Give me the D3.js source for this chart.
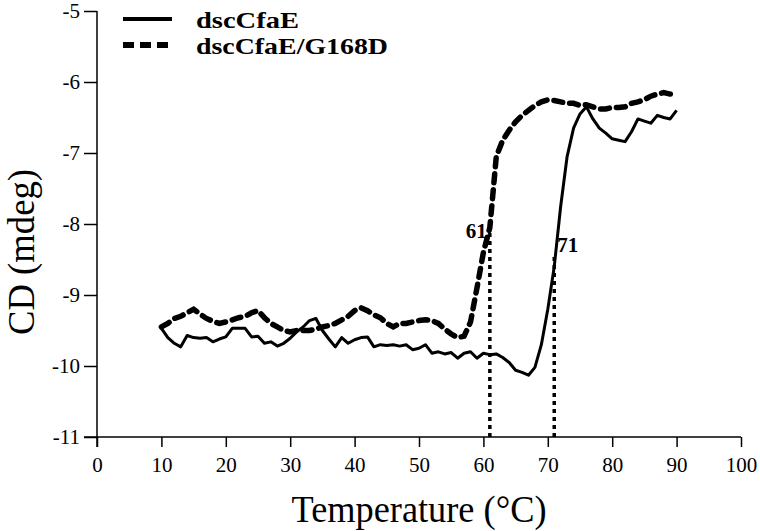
<!DOCTYPE html>
<html><head><meta charset="utf-8">
<script src="https://cdn.jsdelivr.net/npm/d3@7"></script>
<style>body{margin:0;background:#fff}svg{display:block}svg text{font-family:"Liberation Serif","Times New Roman",serif}</style>
</head><body><svg id="c" width="760" height="531"></svg>
<script>
const tempsA = d3.range(10, 91);
const wildType = [-9.47,-9.6,-9.68,-9.73,-9.57,-9.6,-9.61,-9.6,-9.66,-9.62,-9.59,-9.47,-9.47,-9.47,-9.59,-9.58,-9.68,-9.66,-9.72,-9.68,-9.61,-9.52,-9.45,-9.36,-9.33,-9.5,-9.62,-9.73,-9.6,-9.68,-9.63,-9.6,-9.59,-9.73,-9.7,-9.71,-9.7,-9.72,-9.7,-9.77,-9.75,-9.7,-9.82,-9.8,-9.83,-9.81,-9.89,-9.82,-9.8,-9.89,-9.82,-9.84,-9.83,-9.88,-9.95,-10.06,-10.09,-10.13,-10.02,-9.7,-9.2,-8.6,-7.75,-7.05,-6.65,-6.45,-6.35,-6.52,-6.65,-6.72,-6.8,-6.82,-6.84,-6.7,-6.52,-6.55,-6.58,-6.47,-6.5,-6.52,-6.4];
const mutant = [-9.45,-9.4,-9.33,-9.3,-9.25,-9.2,-9.27,-9.33,-9.37,-9.4,-9.38,-9.35,-9.32,-9.3,-9.25,-9.22,-9.32,-9.4,-9.45,-9.5,-9.52,-9.5,-9.5,-9.5,-9.48,-9.45,-9.43,-9.4,-9.35,-9.3,-9.22,-9.18,-9.22,-9.28,-9.32,-9.4,-9.45,-9.4,-9.4,-9.38,-9.36,-9.35,-9.36,-9.4,-9.48,-9.55,-9.6,-9.58,-9.38,-8.9,-8.4,-8.05,-7.05,-6.82,-6.68,-6.56,-6.47,-6.4,-6.33,-6.28,-6.25,-6.26,-6.28,-6.3,-6.3,-6.33,-6.32,-6.35,-6.38,-6.38,-6.36,-6.36,-6.35,-6.3,-6.28,-6.25,-6.2,-6.17,-6.15,-6.17,-6.18];
const seriesNames = ["dscCfaE", "dscCfaE/G168D"];
const tmTemps = [61, 71];
const tmTops = [-8.05, -8.45];
const tmLabels = ["61", "71"];
const xTicks = d3.range(0, 101, 10);
const yTicks = [-11, -10, -9, -8, -7, -6, -5];

const FONT = '"Liberation Serif","Times New Roman",serif';
const svg = d3.select("#c");
const x = d3.scaleLinear().domain([0, 100]).range([97, 741]);
const y = d3.scaleLinear().domain([-11, -5]).range([437, 11]);

// axes
const xAxis = svg.append("g").attr("transform", `translate(0,${y(-11)})`)
  .call(d3.axisBottom(x).tickValues(xTicks).tickSize(10).tickPadding(10).tickSizeOuter(0)
    .tickFormat(d => String(d)));
const yAxis = svg.append("g").attr("transform", `translate(${x(0)},0)`)
  .call(d3.axisLeft(y).tickValues(yTicks).tickSize(13).tickPadding(4).tickSizeOuter(0)
    .tickFormat(d => String(d)));
[xAxis, yAxis].forEach(g => {
  g.attr("font-family", FONT).attr("font-size", 21);
  g.select(".domain").remove();
  g.selectAll("line").attr("stroke", "#000").attr("stroke-width", 1.5);
  g.selectAll("text").attr("fill", "#000").style("font-family", FONT).style("font-size", "21px");
});
svg.append("line").attr("x1", x(0) - 13).attr("x2", x(100)).attr("y1", y(-11)).attr("y2", y(-11))
  .attr("stroke", "#000").attr("stroke-width", 1.5);
svg.append("line").attr("x1", x(0)).attr("x2", x(0)).attr("y1", y(-5)).attr("y2", y(-11) + 10)
  .attr("stroke", "#000").attr("stroke-width", 1.5);

// axis titles
svg.append("text").attr("x", 419).attr("y", 522).attr("text-anchor", "middle")
  .style("font-size", "37px").attr("textLength", 255).attr("lengthAdjust", "spacingAndGlyphs")
  .text("Temperature (°C)");
svg.append("text").attr("transform", "translate(34,252) rotate(-90)").attr("text-anchor", "middle")
  .style("font-size", "37px").attr("textLength", 166).attr("lengthAdjust", "spacingAndGlyphs")
  .text("CD (mdeg)");

// Tm markers
tmTemps.forEach((t, i) => {
  svg.append("line").attr("x1", x(t)).attr("x2", x(t)).attr("y1", y(-11)).attr("y2", y(tmTops[i]))
    .attr("stroke", "#000").attr("stroke-width", 3.5).attr("stroke-dasharray", "4,4");
});
svg.append("text").attr("x", x(tmTemps[0]) - 3).attr("y", 238).attr("text-anchor", "end")
  .style("font-size", "21px").attr("font-weight", "bold").text(tmLabels[0]);
svg.append("text").attr("x", x(tmTemps[1]) + 3).attr("y", 252).attr("text-anchor", "start")
  .style("font-size", "21px").attr("font-weight", "bold").text(tmLabels[1]);

// curves
const line = d3.line().x((d, i) => x(tempsA[i])).y(d => y(d));
svg.append("path").datum(mutant).attr("d", line).attr("fill", "none").attr("stroke", "#000")
  .attr("stroke-width", 5.5).attr("stroke-dasharray", "9,7").attr("stroke-linecap", "round");
svg.append("path").datum(wildType).attr("d", line).attr("fill", "none").attr("stroke", "#000")
  .attr("stroke-width", 3).attr("stroke-linejoin", "round");

// legend
const leg = [{dash: null, w: 4, len: 103}, {dash: "11,6", w: 6, len: 192}];
seriesNames.forEach((n, i) => {
  const ly = 19 + i * 26;
  svg.append("line").attr("x1", 123).attr("x2", 172).attr("y1", ly).attr("y2", ly)
    .attr("stroke", "#000").attr("stroke-width", leg[i].w)
    .attr("stroke-dasharray", leg[i].dash);
  svg.append("text").attr("x", 196).attr("y", ly + 9).style("font-size", "24px")
    .attr("textLength", leg[i].len).attr("lengthAdjust", "spacingAndGlyphs")
    .attr("font-weight", "bold").text(n);
});
</script></body></html>
